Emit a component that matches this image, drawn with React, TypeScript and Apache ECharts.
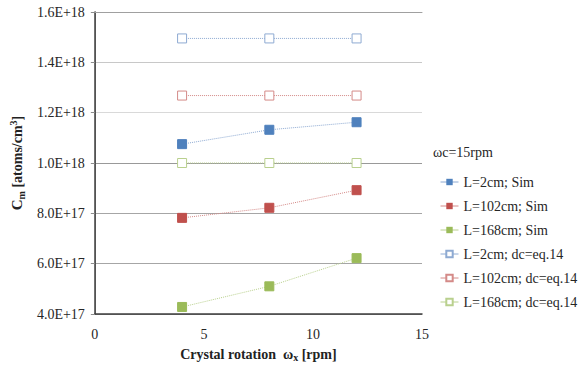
import React, { useEffect, useRef } from "react";
import * as echarts from "echarts";

const xValues = [4, 8, 12];
const simL2 = [1.075e18, 1.132e18, 1.162e18];
const simL102 = [7.82e17, 8.22e17, 8.92e17];
const simL168 = [4.28e17, 5.1e17, 6.22e17];
const eqL2 = [1.495e18, 1.495e18, 1.495e18];
const eqL102 = [1.268e18, 1.268e18, 1.268e18];
const eqL168 = [1.0e18, 1.0e18, 1.0e18];
const seriesNames = [
  "L=2cm; Sim",
  "L=102cm; Sim",
  "L=168cm; Sim",
  "L=2cm; dc=eq.14",
  "L=102cm; dc=eq.14",
  "L=168cm; dc=eq.14",
];
const colors = ["#4F81BD", "#C0504D", "#9BBB59"];
const lineColors = ["#8eaad2", "#d48a88", "#b9d08e"];

const FONT = "Liberation Serif";

export default function App() {
  const ref = useRef<HTMLDivElement>(null);
  useEffect(() => {
    document.body.style.margin = "0";
    if (!ref.current) return;
    const chart = echarts.init(ref.current, undefined, { renderer: "svg" });
    const pair = (ys: number[]) => xValues.map((x, i) => [x, ys[i]]);
    const simData = [simL2, simL102, simL168];
    const eqData = [eqL2, eqL102, eqL168];
    const series: any[] = [];
    simData.forEach((d, i) => {
      series.push({
        name: seriesNames[i],
        type: "line",
        data: pair(d),
        symbol: "rect",
        symbolSize: 9,
        itemStyle: { color: colors[i], borderColor: colors[i] },
        lineStyle: { color: lineColors[i], width: 1, type: "dotted" },
        z: 3,
      });
    });
    eqData.forEach((d, i) => {
      series.push({
        name: seriesNames[i + 3],
        type: "line",
        data: pair(d),
        symbol: "rect",
        symbolSize: 9,
        itemStyle: { color: "#ffffff", borderColor: lineColors[i], borderWidth: 1 },
        lineStyle: { color: lineColors[i], width: 1, type: "dotted" },
        z: 2,
      });
    });
    const txt = { fontFamily: FONT, color: "#262626" };
    chart.setOption({
      animation: false,
      grid: { left: 94, right: 161, top: 12, bottom: 51, containLabel: false },
      xAxis: [
        {
          type: "value",
          min: 0,
          max: 15,
          interval: 5,
          axisLine: { lineStyle: { color: "#404040", width: 1.5 } },
          axisTick: { show: false },
          axisLabel: { ...txt, fontSize: 14, margin: 13 },
          splitLine: { show: false },
          name: "{b|Crystal rotation  ω}{sub|x}{b| [rpm]}",
          nameLocation: "middle",
          nameGap: 32,
          nameTextStyle: {
            fontFamily: FONT,
            rich: {
              b: { fontSize: 14, fontWeight: "bold", fontFamily: FONT, color: "#222", lineHeight: 16 },
              sub: { fontSize: 10, fontWeight: "bold", fontFamily: FONT, color: "#222", lineHeight: 16, verticalAlign: "bottom", padding: [6, 0, 0, 0] },
            },
          },
        },
        {
          type: "value",
          position: "top",
          min: 0,
          max: 15,
          interval: 5,
          axisLine: { show: true, lineStyle: { color: "#a0a0a0", width: 1 } },
          axisTick: { show: false },
          axisLabel: { show: false },
          splitLine: { show: false },
        },
      ],
      yAxis: [
        {
          type: "value",
          min: 4e17,
          max: 1.6e18,
          interval: 2e17,
          axisLine: { show: true, lineStyle: { color: "#8c8c8c", width: 1 } },
          axisTick: { show: true, length: 4, lineStyle: { color: "#8c8c8c" } },
          axisLabel: {
            ...txt,
            fontSize: 14,
            margin: 10,
            formatter: (v: number) => v.toExponential(1).toUpperCase(),
          },
          splitLine: {
            show: true,
            lineStyle: {
              color: ["#888888", "#a6a6a6", "#a6a6a6", "#999999", "#d9d9d9", "#c8c8c8", "#a0a0a0"],
              width: 1,
            },
          },
          name: "{b|C}{sub|m}{n| [atoms/cm}{sup|3}{n|]}",
          nameLocation: "middle",
          nameGap: 64,
          nameRotate: 90,
          nameTextStyle: {
            fontFamily: FONT,
            rich: {
              b: { fontSize: 15, fontWeight: "bold", fontFamily: FONT, color: "#222", lineHeight: 18 },
              n: { fontSize: 14, fontWeight: "bold", fontFamily: FONT, color: "#222", lineHeight: 18 },
              sub: { fontSize: 10, fontWeight: "bold", fontFamily: FONT, color: "#222", lineHeight: 18, verticalAlign: "bottom", padding: [6, 0, 0, 0] },
              sup: { fontSize: 10, fontWeight: "bold", fontFamily: FONT, color: "#222", lineHeight: 18, verticalAlign: "top", padding: [0, 0, 6, 0] },
            },
          },
        },
        {
          type: "value",
          position: "right",
          min: 4e17,
          max: 1.6e18,
          interval: 2e17,
          axisLine: { show: true, lineStyle: { color: "#404040", width: 1.5 } },
          axisTick: { show: false },
          axisLabel: { show: false },
          splitLine: { show: false },
        },
      ],
      legend: {
        orient: "vertical",
        left: 435,
        top: 170,
        itemWidth: 18,
        itemHeight: 8,
        itemGap: 10,
        itemTextGap: 5,
        lineStyle: { type: "solid", width: 1 },
        textStyle: { fontSize: 14, fontFamily: FONT, color: "#262626" },
        data: seriesNames,
      },
      graphic: [
        {
          type: "text",
          left: 433,
          top: 145,
          style: { text: "ωc=15rpm", fontSize: 14, fontFamily: FONT, fill: "#262626" },
        },
      ],
      series,
    });
    return () => chart.dispose();
  }, []);
  return <div ref={ref} style={{ width: 583, height: 367 }} />;
}
